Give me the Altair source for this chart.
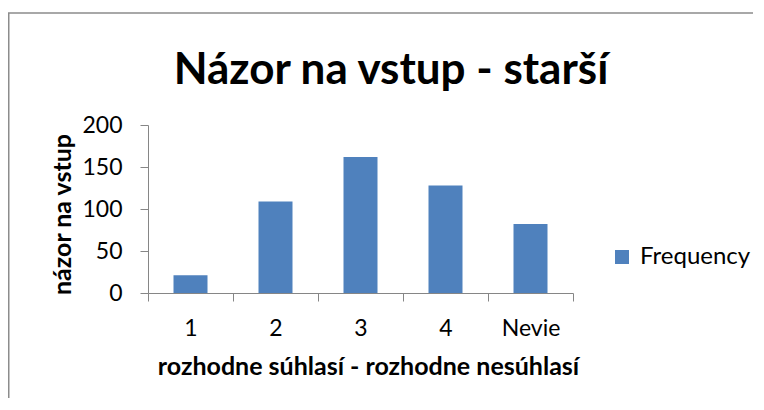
import altair as alt
import pandas as pd

# ---- data ----
categories = ["1", "2", "3", "4", "Nevie"]
values = [21, 109, 162, 128, 82]
series_name = "Frequency"
y_ticks = [0, 50, 100, 150, 200]

title_text = "Názor na vstup - starší"
x_title = "rozhodne súhlasí - rozhodne nesúhlasí"
y_title = "názor na vstup"

df = pd.DataFrame({"kategoria": categories, "pocet": values,
                   "serie": [series_name] * len(categories)})

FONT = "Lato"
GREY = "#868686"
BLUE = "#4F81BD"

PLOT_W, PLOT_H = 425, 168
PAD_L, PAD_T = 140, 117
TOTAL_W, TOTAL_H = 745, 390

bars = alt.Chart(df).mark_bar(width=alt.RelativeBandSize(0.4)).encode(
    x=alt.X("kategoria:N", sort=categories,
            scale=alt.Scale(paddingInner=0, paddingOuter=0),
            axis=alt.Axis(title=x_title, labelAngle=0, tickBand="extent",
                          domainColor=GREY, tickColor=GREY, tickSize=8,
                          labelFont=FONT, labelFontSize=23, labelColor="black",
                          labelPadding=16, labelBaseline="top",
                          titleFont=FONT, titleFontSize=25, titleFontWeight="bold",
                          titleColor="black", titlePadding=14,
                          titleX=220, titleAlign="center")),
    y=alt.Y("pocet:Q", scale=alt.Scale(domain=[0, 200]),
            axis=alt.Axis(title=y_title, values=y_ticks, grid=False,
                          domainColor=GREY, tickColor=GREY, tickSize=8,
                          labelFont=FONT, labelFontSize=23, labelColor="black",
                          labelPadding=18,
                          titleFont=FONT, titleFontSize=25, titleFontWeight="bold",
                          titleColor="black", titleAngle=270,
                          titleX=-86, titleY=89, titleAlign="center",
                          titleBaseline="middle")),
    color=alt.Color("serie:N", scale=alt.Scale(range=[BLUE]),
                    legend=alt.Legend(title=None, orient="none",
                                      legendX=462, legendY=120,
                                      symbolType="square", symbolSize=196,
                                      symbolOpacity=1, symbolStrokeWidth=0,
                                      labelFont=FONT, labelFontSize=24,
                                      labelColor="black", labelOffset=6)),
)

frame = alt.Chart(pd.DataFrame({"a": [0]})).mark_rect(
    fill=None, stroke="#8c8c8c", strokeWidth=1.5
).encode(
    x=alt.value(-PAD_L + 0.75), x2=alt.value(TOTAL_W + 50),
    y=alt.value(-PAD_T + 5), y2=alt.value(TOTAL_H + 50),
)

title = alt.Chart(pd.DataFrame({"a": [0]})).mark_text(
    font=FONT, fontSize=44, fontWeight="bold", color="black",
    align="center", baseline="alphabetic"
).encode(x=alt.value(243), y=alt.value(-41), text=alt.value(title_text))

chart = alt.layer(frame, bars, title).properties(
    width=PLOT_W, height=PLOT_H,
    autosize=alt.AutoSizeParams(type="none"),
    padding={"left": PAD_L, "top": PAD_T, "right": TOTAL_W - PAD_L - PLOT_W,
             "bottom": TOTAL_H - PAD_T - PLOT_H},
).configure(background="white").configure_view(stroke=None)

chart.save("out.html", embed_options={"renderer": "svg", "actions": False})
